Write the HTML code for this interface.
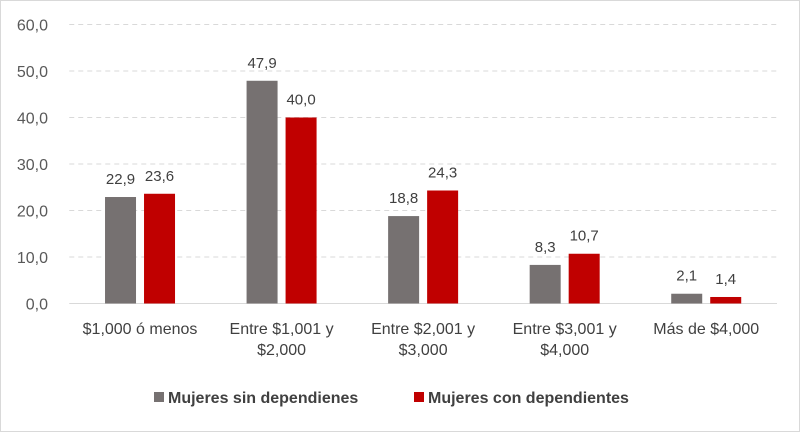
<!DOCTYPE html>
<html><head><meta charset="utf-8"><style>
body{margin:0;background:#fff;}
svg{display:block;font-family:"Liberation Sans",sans-serif;}
</style></head><body>
<svg id="chart" width="800" height="432">
<rect x="0.5" y="0.5" width="799" height="431" fill="#fff" stroke="#d9d9d9"/>
<g id="grid"></g><g id="bars"></g><g id="labels"></g>
<g font-size="16" font-weight="bold" fill="#404040">
<rect x="154" y="392" width="10" height="10" fill="#767171"/>
<text x="168" y="403">Mujeres sin dependienes</text>
<rect x="414" y="392" width="10" height="10" fill="#c00000"/>
<text x="428" y="403">Mujeres con dependientes</text>
</g>
</svg>
<script>
const categories=[["$1,000 ó menos"],["Entre $1,001 y","$2,000"],["Entre $2,001 y","$3,000"],["Entre $3,001 y","$4,000"],["Más de $4,000"]];
const sinValues=[22.9,47.9,18.8,8.3,2.1];
const conValues=[23.6,40.0,24.3,10.7,1.4];
const yTicks=[0,10,20,30,40,50,60];
const NS="http://www.w3.org/2000/svg";
const L=69.25,R=777,T=24.5,B=303.5,yMax=60;
const y=v=>B-(B-T)*v/yMax;
const bw=(R-L)/categories.length;
const cx=i=>L+bw*(i+0.5);
function mk(tag,attrs,parent){const e=document.createElementNS(NS,tag);for(const k in attrs)e.setAttribute(k,attrs[k]);parent.appendChild(e);return e;}
const grid=document.getElementById('grid'),bars=document.getElementById('bars'),labels=document.getElementById('labels');
yTicks.forEach(t=>{
  const ln=mk('line',{x1:L,x2:R,y1:y(t),y2:y(t),stroke:'#d9d9d9','stroke-width':1,'stroke-dasharray':t===0?'none':'5,4'},grid);
  
  
  const tx=mk('text',{x:48,y:y(t)+6,'text-anchor':'end','font-size':16,fill:'#595959'},grid);
  tx.textContent=t.toFixed(1).replace('.',',');
  
  
});
const BW=31,GAP=8;
categories.forEach((c,i)=>{
  [[sinValues[i],'#767171',-1],[conValues[i],'#c00000',1]].forEach(([v,col,s])=>{
    const x=s<0?cx(i)-GAP/2-BW:cx(i)+GAP/2;
    const r=mk('rect',{x:x,y:y(v),width:BW,height:B-y(v),fill:col},bars);
    
    
    const t=mk('text',{x:x+BW/2,y:y(v)-13,'text-anchor':'middle','font-size':15,fill:'#404040'},labels);
    t.textContent=v.toFixed(1).replace('.',',');
    
    
  });
  c.forEach((line,j)=>{
    const t=mk('text',{x:cx(i),y:334+j*21,'text-anchor':'middle','font-size':16,fill:'#404040'},labels);
    t.textContent=line;
    
    
  });
});
</script>
</body></html>
